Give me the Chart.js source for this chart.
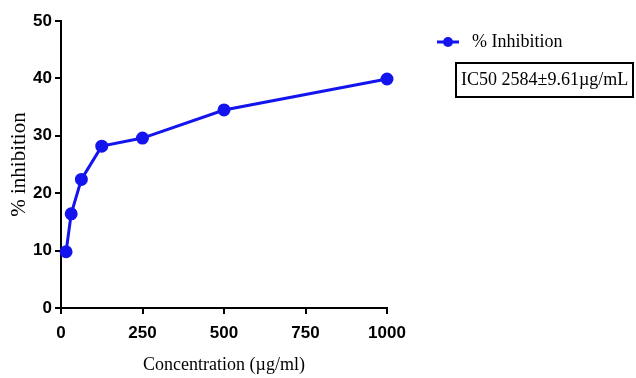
<!DOCTYPE html>
<html>
<head>
<meta charset="utf-8">
<script src="https://cdn.jsdelivr.net/npm/chart.js@4"></script>
<style>
  html, body { margin: 0; padding: 0; background: #fff; }
  #wrap { width: 636px; height: 378px; }
</style>
</head>
<body>
<div id="wrap"><canvas id="chart" width="636" height="378"></canvas></div>
<script>
const concentrations = [15.6, 31.25, 62.5, 125, 250, 500, 1000];
const inhibition = [9.8, 16.4, 22.4, 28.2, 29.6, 34.5, 39.9];
const xTicks = [0, 250, 500, 750, 1000];
const yTicks = [0, 10, 20, 30, 40, 50];
const seriesLabel = '% Inhibition';
const ic50Label = 'IC50 2584\u00b19.61\u00b5g/mL';

const blue = '#1414ee';
const tickFont = { family: '"Liberation Sans Narrow", "Liberation Sans", Arial, sans-serif', size: 17, weight: 'bold' };
const serif = '"Liberation Serif", "Times New Roman", serif';

// legend entry + IC50 box on the right
const sideLegend = {
  id: 'sideLegend',
  afterDraw(chart) {
    const ctx = chart.ctx;
    ctx.save();
    ctx.strokeStyle = blue;
    ctx.fillStyle = blue;
    ctx.lineWidth = 3;
    ctx.beginPath();
    ctx.moveTo(437, 42);
    ctx.lineTo(459, 42);
    ctx.stroke();
    ctx.beginPath();
    ctx.arc(448, 42, 5, 0, Math.PI * 2);
    ctx.fill();

    ctx.fillStyle = '#000';
    ctx.font = '18px ' + serif;
    ctx.textBaseline = 'middle';
    ctx.fillText(seriesLabel, 472, 42);

    ctx.lineWidth = 2;
    ctx.strokeStyle = '#000';
    ctx.strokeRect(456, 63, 177, 34);
    ctx.fillText(ic50Label, 461, 80);
    ctx.restore();
  }
};

new Chart(document.getElementById('chart'), {
  type: 'scatter',
  data: {
    datasets: [{
      label: seriesLabel,
      data: concentrations.map((x, i) => ({ x, y: inhibition[i] })),
      showLine: true,
      borderColor: blue,
      backgroundColor: blue,
      borderWidth: 3,
      pointRadius: 5,
      pointHoverRadius: 5,
      clip: false
    }]
  },
  options: {
    responsive: false,
    animation: false,
    events: [],
    layout: { padding: { left: 0, top: 21, right: 249, bottom: 0 } },
    plugins: { legend: { display: false }, tooltip: { enabled: false } },
    scales: {
      x: {
        type: 'linear',
        min: 0, max: 1000,
        afterBuildTicks: s => { s.ticks = xTicks.map(v => ({ value: v })); },
        afterFit: s => { s.height = 70; },
        grid: { drawOnChartArea: false, color: '#000', lineWidth: 2, tickLength: 6 },
        border: { color: '#000', width: 2 },
        ticks: { color: '#000', font: tickFont, padding: 9, maxRotation: 0, callback: v => String(v) },
        title: { display: true, text: 'Concentration (\u00b5g/ml)', color: '#000',
                 font: { family: serif, size: 18 }, padding: { top: 0, bottom: 2 } }
      },
      y: {
        type: 'linear',
        min: 0, max: 50,
        afterBuildTicks: s => { s.ticks = yTicks.map(v => ({ value: v })); },
        afterFit: s => { s.width = 61; },
        grid: { drawOnChartArea: false, color: '#000', lineWidth: 2, tickLength: 6 },
        border: { color: '#000', width: 2 },
        ticks: { color: '#000', font: tickFont, padding: 3, callback: v => String(v) },
        title: { display: true, text: '% inhibition', color: '#000',
                 font: { family: serif, size: 21 }, padding: { top: 7, bottom: 0 } }
      }
    }
  },
  plugins: [sideLegend]
});
</script>
</body>
</html>
